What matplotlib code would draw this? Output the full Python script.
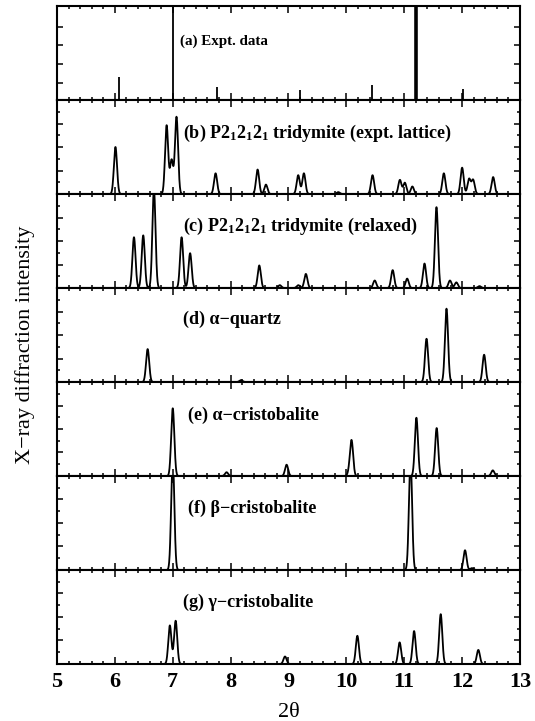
import numpy as np
import matplotlib
matplotlib.use("Agg")
import matplotlib.pyplot as plt
from matplotlib.ticker import MultipleLocator

# peak positions (2theta) and heights (fraction of panel)
a_pos = [6.07, 7.00, 7.76, 9.20, 10.45, 11.21, 12.02]
a_int = [0.25, 1.50, 0.14, 0.105, 0.16, 1.50, 0.12]

b_pos = [6.01, 6.894, 6.98, 7.065, 7.74, 8.466, 8.61, 9.168, 9.266, 9.86,
         10.452, 10.925, 11.01, 11.14, 11.684, 12.00, 12.12, 12.19, 12.536]
b_int = [0.50, 0.73, 0.36, 0.82, 0.22, 0.26, 0.10, 0.20, 0.22, 0.02,
         0.20, 0.15, 0.12, 0.08, 0.22, 0.28, 0.16, 0.15, 0.18]

c_pos = [6.33, 6.49, 6.675, 7.153, 7.30, 8.495, 8.85, 9.17, 9.30, 10.49,
         10.80, 11.05, 11.35, 11.557, 11.79, 11.90, 12.30]
c_int = [0.54, 0.56, 1.05, 0.54, 0.37, 0.24, 0.03, 0.03, 0.15, 0.08,
         0.19, 0.10, 0.26, 0.86, 0.08, 0.06, 0.02]

d_pos = [6.566, 8.18, 11.385, 11.73, 12.38]
d_int = [0.35, 0.02, 0.46, 0.78, 0.29]

e_pos = [7.00, 7.93, 8.967, 10.05, 10.09, 11.21, 11.56, 12.53]
e_int = [0.72, 0.04, 0.12, 0.04, 0.37, 0.62, 0.51, 0.06]

f_pos = [7.00, 11.108, 12.05, 12.17]
f_int = [1.20, 1.20, 0.21, 0.02]

g_pos = [6.95, 7.05, 8.94, 10.19, 10.92, 11.17, 11.63, 12.28]
g_int = [0.41, 0.46, 0.08, 0.30, 0.23, 0.35, 0.53, 0.15]

labels = ["(a) Expt. data",
          "(b) P2$_1$2$_1$2$_1$ tridymite (expt. lattice)",
          "(c) P2$_1$2$_1$2$_1$ tridymite (relaxed)",
          "(d) \u03b1\u2212quartz",
          "(e) \u03b1\u2212cristobalite",
          "(f) \u03b2\u2212cristobalite",
          "(g) \u03b3\u2212cristobalite"]
label_x = [7.12, 7.18, 7.18, 7.18, 7.27, 7.27, 7.18]
label_y = [0.62, 0.64, 0.65, 0.67, 0.65, 0.66, 0.66]

plt.rcParams['font.family'] = ['Liberation Serif', 'DejaVu Serif']
plt.rcParams['mathtext.fontset'] = 'custom'
plt.rcParams['mathtext.rm'] = 'Liberation Serif:bold'
plt.rcParams['mathtext.it'] = 'Liberation Serif:bold'
plt.rcParams['mathtext.bf'] = 'Liberation Serif:bold'
plt.rcParams['mathtext.default'] = 'rm'


def pattern(x, pos, inten, width=0.027):
    # broaden the peak list into a powder pattern
    y = np.zeros_like(x)
    for p, h in zip(pos, inten):
        y += h * np.exp(-(x - p) ** 2 / (2 * width ** 2))
    return y


fig, axes = plt.subplots(7, 1, sharex=True, figsize=(5.35, 7.21), dpi=100)
fig.subplots_adjust(left=57 / 535, right=520 / 535, top=1 - 6 / 721,
                    bottom=1 - 664 / 721, hspace=0)

x = np.linspace(5, 13, 4001)

# (a) stick pattern, the 11.2 line is drawn heavier
ax = axes[0]
ax.vlines(a_pos, 0, a_int, colors='black', linewidths=1.3)
ax.vlines([a_pos[5]], 0, [a_int[5]], colors='black', linewidths=2.6)

panels = [(b_pos, b_int), (c_pos, c_int), (d_pos, d_int),
          (e_pos, e_int), (f_pos, f_int), (g_pos, g_int)]
for ax, (pos, inten) in zip(axes[1:], panels):
    ax.plot(x, pattern(x, pos, inten), color='black', lw=1.3)

for i, ax in enumerate(axes):
    ax.set_xlim(5, 13)
    ax.set_ylim(0, 1)
    ax.xaxis.set_major_locator(MultipleLocator(1))
    ax.xaxis.set_minor_locator(MultipleLocator(0.2))
    if i == 0:
        ax.set_yticks([0.18, 0.38, 0.58, 0.78])
    else:
        ax.yaxis.set_major_locator(MultipleLocator(0.25))
        ax.yaxis.set_minor_locator(MultipleLocator(0.125))
    ax.tick_params(axis='both', which='both', direction='in', top=True,
                   right=True, labelleft=False, width=1.1)
    ax.tick_params(axis='x', which='major', length=5)
    ax.tick_params(axis='x', which='minor', length=2.5)
    ax.tick_params(axis='y', which='major', length=4)
    ax.tick_params(axis='y', which='minor', length=2.5)
    for s in ax.spines.values():
        s.set_linewidth(1.5)
    fs = 10.8 if i == 0 else 13
    ax.text(label_x[i], label_y[i], labels[i], fontsize=fs,
            fontweight='bold', va='center', ha='left')

axes[-1].tick_params(axis='x', which='major', labelsize=16, pad=6)
for t in axes[-1].get_xticklabels():
    t.set_fontweight('bold')
axes[-1].set_xlabel("2\u03b8", fontsize=16, labelpad=8)

fig.text(25 / 535, 1 - 345 / 721, "X\u2212ray diffraction intensity",
         rotation=90, ha='center', va='center', fontsize=16)

fig.savefig("out.png", dpi=100)
